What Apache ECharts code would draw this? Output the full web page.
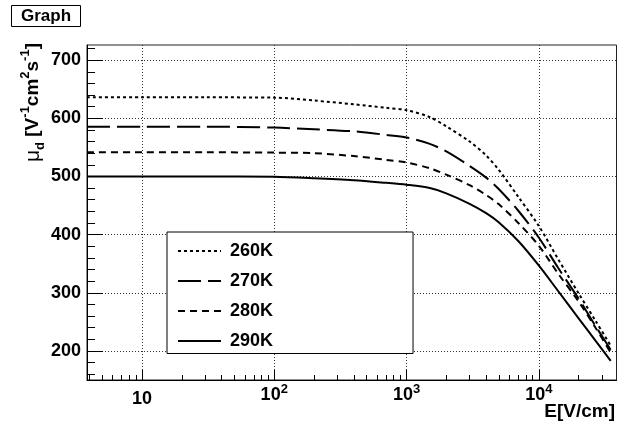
<!DOCTYPE html>
<html>
<head>
<meta charset="utf-8">
<script src="https://cdn.jsdelivr.net/npm/echarts@6/dist/echarts.min.js"></script>
<style>
  html, body { margin: 0; padding: 0; background: #fff; }
  #chart { width: 618px; height: 427px; }
</style>
</head>
<body>
<div id="chart"></div>
<script>
// Drift mobility versus electric field for four temperatures
const fieldValues = [3.84, 10, 30, 100, 200, 400, 700, 1000, 1500, 2000, 3000, 4000, 5000, 7000, 10000, 14000, 20000, 27000, 35000];
const mu260K = [636, 636, 636, 635.5, 630.5, 624, 618, 614, 602, 586, 560, 536, 511, 465, 415, 358, 299, 251, 209];
const mu270K = [585.5, 585.5, 585.5, 584, 581, 577.5, 571.5, 567, 556, 543, 518, 498, 478, 441, 395, 343, 290, 242, 202];
const mu280K = [541.5, 541.5, 541.5, 541, 540, 535, 528.5, 524, 514, 503, 485, 468, 452, 420, 381, 333, 285, 239, 197];
const mu290K = [500, 500, 500, 499.5, 497, 493.5, 489, 485.7, 480, 471, 453, 437, 421, 389, 347, 303, 256, 217, 183];

const seriesNames = ['260K', '270K', '280K', '290K'];

// Axis ticks
const xMajorTicks = [10, 100, 1000, 10000];
const xMinorTicks = [4, 5, 6, 7, 8, 9, 20, 30, 40, 50, 60, 70, 80, 90,
  200, 300, 400, 500, 600, 700, 800, 900, 2000, 3000, 4000, 5000, 6000, 7000, 8000, 9000, 20000, 30000];
const yMajorTicks = [200, 300, 400, 500, 600, 700];
const yMinorTicks = [160, 180, 220, 240, 260, 280, 320, 340, 360, 380, 420, 440, 460, 480,
  520, 540, 560, 580, 620, 640, 660, 680, 720];

const FONT = 'Liberation Sans';

function pairs(ys) {
  return fieldValues.map((x, i) => [x, ys[i]]);
}

const lineStyles = [
  { type: [3, 3] },
  { type: [23, 7] },
  { type: [7, 5] },
  { type: 'solid' }
];
const seriesData = [mu260K, mu270K, mu280K, mu290K];

const chart = echarts.init(document.getElementById('chart'), null, { renderer: 'canvas' });

const xLabelFormatter = function (v) {
  const p = Math.round(Math.log10(v));
  if (p === 1) return '{p|10}';
  return '{m|10}{s|' + p + '}';
};

chart.setOption({
  animation: false,
  backgroundColor: '#fff',
  title: {
    text: 'Graph',
    left: 11,
    top: 5,
    padding: [3, 10, 2, 10],
    borderColor: '#000',
    borderWidth: 1,
    backgroundColor: '#fff',
    textStyle: { fontFamily: FONT, fontWeight: 'bold', fontSize: 17, color: '#000' }
  },
  grid: {
    left: 87, right: 1.5, top: 45, bottom: 47,
    show: true, borderColor: '#222', borderWidth: 1, backgroundColor: 'transparent',
    containLabel: false, outerBoundsMode: 'none'
  },
  legend: {
    orient: 'vertical',
    left: 167, top: 232,
    padding: [10, 140, 3.5, 10],
    itemWidth: 43, itemHeight: 14, itemGap: 12,
    backgroundColor: '#fff', borderColor: '#000', borderWidth: 1,
    itemStyle: { opacity: 0 },
    textStyle: { fontFamily: FONT, fontWeight: 'bold', fontSize: 18, color: '#000', padding: [0, 0, 0, 4] },
    data: seriesNames
  },
  xAxis: [
    {
      type: 'log', logBase: 10, min: 3.84, max: 38700,
      axisLine: { show: true, onZero: false, lineStyle: { color: '#000', width: 1 } },
      axisTick: { show: true, inside: true, length: 10, customValues: xMajorTicks, lineStyle: { color: '#000', width: 1 } },
      axisLabel: {
        show: true, customValues: xMajorTicks, margin: 3, formatter: xLabelFormatter,
        rich: {
          p: { fontFamily: FONT, fontWeight: 'bold', fontSize: 18, lineHeight: 32, color: '#000' },
          m: { fontFamily: FONT, fontWeight: 'bold', fontSize: 18, lineHeight: 24, color: '#000' },
          s: { fontFamily: FONT, fontWeight: 'bold', fontSize: 13, lineHeight: 13, verticalAlign: 'top', color: '#000' }
        }
      },
      splitLine: { show: true, lineStyle: { color: '#333', width: 1, type: [1, 2] } }
    },
    {
      type: 'log', logBase: 10, min: 3.84, max: 38700, position: 'bottom',
      axisLine: { show: false },
      axisTick: { show: true, inside: true, length: 5, customValues: xMinorTicks, lineStyle: { color: '#000', width: 1 } },
      axisLabel: { show: false },
      splitLine: { show: false }
    }
  ],
  yAxis: [
    {
      type: 'value', min: 150, max: 726,
      axisLine: { show: true, onZero: false, lineStyle: { color: '#000', width: 1 } },
      axisTick: { show: true, inside: true, length: 16, customValues: yMajorTicks, lineStyle: { color: '#000', width: 1 } },
      axisLabel: { show: true, customValues: yMajorTicks, margin: 6, fontFamily: FONT, fontWeight: 'bold', fontSize: 18, color: '#000' },
      splitLine: { show: true, lineStyle: { color: '#333', width: 1, type: [1, 2] } }
    },
    {
      type: 'value', min: 150, max: 726, position: 'left',
      axisLine: { show: false },
      axisTick: { show: true, inside: true, length: 8, customValues: yMinorTicks, lineStyle: { color: '#000', width: 1 } },
      axisLabel: { show: false },
      splitLine: { show: false }
    }
  ],
  graphic: [
    {
      type: 'text',
      x: 33, y: 43,
      rotation: Math.PI / 2,
      style: {
        text: '{g|μ}{sub|d}{n| [V}{sup|-1}{n|cm}{sup|2}{n|s}{sup|-1}{n|]}',
        align: 'right',
        verticalAlign: 'middle',
        rich: {
          g: { fontFamily: FONT, fontWeight: 'normal', fontSize: 21, lineHeight: 28, fill: '#000' },
          n: { fontFamily: FONT, fontWeight: 'bold', fontSize: 19, lineHeight: 28, fill: '#000' },
          sub: { fontFamily: FONT, fontWeight: 'bold', fontSize: 13, lineHeight: 12, verticalAlign: 'bottom', fill: '#000' },
          sup: { fontFamily: FONT, fontWeight: 'bold', fontSize: 13, lineHeight: 13, verticalAlign: 'top', fill: '#000' }
        }
      }
    },
    {
      type: 'text',
      x: 615, y: 412,
      style: {
        text: 'E[V/cm]',
        align: 'right',
        verticalAlign: 'middle',
        fontFamily: FONT, fontWeight: 'bold', fontSize: 19, fill: '#000'
      }
    }
  ],
  series: seriesNames.map((name, i) => ({
    name: name,
    type: 'line',
    xAxisIndex: 0,
    yAxisIndex: 0,
    data: pairs(seriesData[i]),
    showSymbol: false,
    symbol: 'none',
    smooth: 0.3,
    clip: true,
    lineStyle: Object.assign({ color: '#000', width: 2 }, lineStyles[i]),
    itemStyle: { color: '#000' }
  }))
});
</script>
</body>
</html>
